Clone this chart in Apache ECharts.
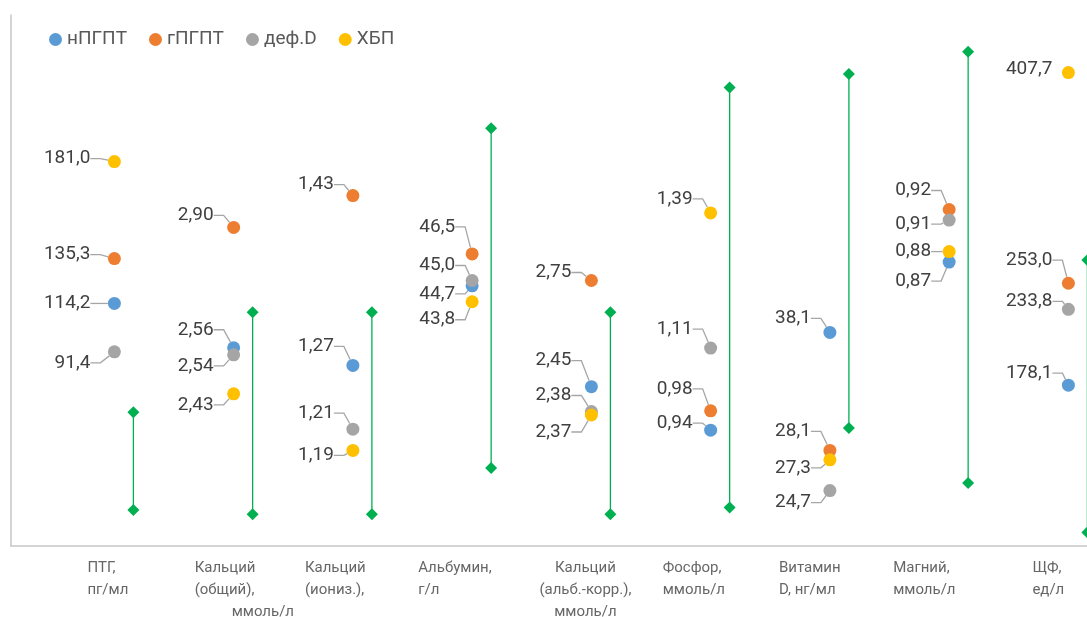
<!DOCTYPE html>
<html>
<head>
<meta charset="utf-8">
<script src="https://cdn.jsdelivr.net/npm/echarts@6/dist/echarts.min.js"></script>
<style>
  html, body { margin: 0; padding: 0; background: #ffffff; }
  #chart { width: 1087px; height: 617px; }
</style>
</head>
<body>
<div id="chart"></div>
<script>
// Laboratory parameters (lines of each axis caption)
const categories = [
  'ПТГ,\nпг/мл',
  'Кальций\n(общий),\nммоль/л',
  'Кальций\n(иониз.),',
  'Альбумин,\nг/л',
  'Кальций\n(альб.-корр.),\nммоль/л',
  'Фосфор,\nммоль/л',
  'Витамин\nD, нг/мл',
  'Магний,\nммоль/л',
  'ЩФ,\nед/л'
];

// Patient groups
const groups = ['нПГПТ', 'гПГПТ', 'деф.D', 'ХБП'];

// Group mean values per parameter
const npgpt = [114.2, 2.56, 1.27, 44.7, 2.45, 0.94, 38.1, 0.87, 178.1];
const gpgpt = [135.3, 2.90, 1.43, 46.5, 2.75, 0.98, 28.1, 0.92, 253.0];
const defD  = [91.4, 2.54, 1.21, 45.0, 2.38, 1.11, 24.7, 0.91, 233.8];
const hbp   = [181.0, 2.43, 1.19, 43.8, 2.37, 1.39, 27.3, 0.88, 407.7];

// Reference intervals (lower / upper limits)
const refLow  = [17, 2.09, 1.13, 34.4, 2.09, 0.78, 30, 0.66, 70];
const refHigh = [63, 2.66, 1.32, 53.6, 2.66, 1.65, 60, 1.07, 270];

// Each parameter is drawn on its own hidden value scale
const scaleMin = [0, 2.0, 1.1, 30, 2.0, 0.7, 20, 0.6, 60];
const scaleMax = [250, 3.5, 1.6, 60, 3.5, 1.8, 65, 1.105, 450];

// Number of decimals shown for each parameter
const decimals = [1, 2, 2, 1, 2, 2, 1, 2, 1];

// ---- presentation ----
const COLORS = ['#5b9bd5', '#ed7d31', '#a5a5a5', '#ffc000'];
const RANGE_COLOR = '#00b050';
const FONT = 'Roboto, "Liberation Sans", sans-serif';
const groupValues = [npgpt, gpgpt, defD, hbp];

// vertical shift of each value label from its dot, rows follow groups
const labelDy = [
  [0, -18, -19, 8, -26, -7, -14, 19, -12],
  [-4, -12, -11, -27, -8, -22, -19, -19, -23],
  [11, 11, -16, -15, -16, -19, 12, 4, -8],
  [-3, 11, 5, 18, 17, -14, 8, 0, -3]
];
// distance from dot centre to right edge of its value label
const labelGap = [24, 20, 19, 17, 20, 18, 19, 18, 16];
// caption placement under the axis: horizontal shift and alignment
const captionShift = [-27, -39, -48, -54, -6, -48, -51, -56, -36];
const captionAlign = ['left', 'left', 'left', 'left', 'center', 'left', 'left', 'left', 'left'];
const RANGE_SHIFT = 19;

const fmt = (v, d) => v.toFixed(d).replace('.', ',');

const yAxes = categories.map((c, ci) => ({
  type: 'value',
  min: scaleMin[ci],
  max: scaleMax[ci],
  show: ci === 0,
  axisLine: { show: ci === 0, onZero: false, lineStyle: { color: '#c6c6c6', width: 1.5 } },
  axisTick: { show: false },
  axisLabel: { show: false },
  splitLine: { show: false }
}));

function renderRange(params, api) {
  const x = api.value(0);
  const lo = api.coord([x, api.value(1)]);
  const hi = api.coord([x, api.value(2)]);
  const px = lo[0] + RANGE_SHIFT;
  const d = 6;
  const diamond = (y) => ({
    type: 'polygon',
    shape: { points: [[px, y - d], [px + d, y], [px, y + d], [px - d, y]] },
    style: { fill: RANGE_COLOR }
  });
  return {
    type: 'group',
    children: [
      { type: 'line', shape: { x1: px, y1: hi[1], x2: px, y2: lo[1] },
        style: { stroke: RANGE_COLOR, lineWidth: 1.3 } },
      diamond(hi[1]),
      diamond(lo[1])
    ]
  };
}

const series = [];
const seriesMeta = [];

categories.forEach((c, ci) => {
  series.push({
    type: 'custom',
    yAxisIndex: ci,
    silent: true,
    z: 1,
    renderItem: renderRange,
    data: [[ci, refLow[ci], refHigh[ci]]]
  });
  seriesMeta.push(null);
});

groups.forEach((g, gi) => {
  categories.forEach((c, ci) => {
    series.push({
      type: 'scatter',
      name: g,
      yAxisIndex: ci,
      symbol: 'circle',
      symbolSize: 13,
      silent: true,
      z: 3,
      itemStyle: { color: COLORS[gi], opacity: 1 },
      data: [[ci, groupValues[gi][ci]]],
      label: {
        show: true,
        position: 'left',
        padding: [0, 6, 0, 0],
        fontFamily: FONT,
        fontSize: 19,
        color: '#404040',
        formatter: (p) => fmt(p.value[1], decimals[ci])
      },
      labelLine: {
        show: !(gi === 3 && ci === 8),
        length2: 10,
        smooth: false,
        lineStyle: { color: '#a6a6a6', width: 1.3 }
      },
      labelLayout: (p) => {
        const m = seriesMeta[p.seriesIndex];
        const cx = p.rect.x + p.rect.width / 2;
        const cy = p.rect.y + p.rect.height / 2;
        return {
          x: cx - labelGap[m.ci] + 6,
          y: cy + labelDy[m.gi][m.ci],
          align: 'right',
          verticalAlign: 'middle'
        };
      }
    });
    seriesMeta.push({ gi: gi, ci: ci });
  });
});

// axis captions, anchored on the bottom of the plot
series.push({
  type: 'scatter',
  yAxisIndex: 0,
  symbolSize: 0,
  silent: true,
  clip: false,
  data: categories.map((c, ci) => ({
    value: [ci, scaleMin[0]],
    label: { align: captionAlign[ci], offset: [captionShift[ci], 0] }
  })),
  label: {
    show: true,
    position: 'bottom',
    distance: 11,
    fontFamily: FONT,
    fontSize: 15,
    lineHeight: 22,
    color: '#404040',
    formatter: (p) => {
      const lines = categories[p.dataIndex].split('\n');
      if (p.dataIndex === 1) {
        lines[2] = '{u|' + lines[2] + '}';
      }
      return lines.join('\n');
    },
    rich: {
      u: { fontFamily: FONT, fontSize: 15, lineHeight: 22, color: '#404040', padding: [0, 0, 0, 37] }
    }
  }
});
seriesMeta.push(null);

const chart = echarts.init(document.getElementById('chart'), null, { renderer: 'canvas' });
chart.setOption({
  animation: false,
  backgroundColor: '#ffffff',
  legend: {
    data: groups,
    left: 44,
    top: 25,
    icon: 'circle',
    itemWidth: 13,
    itemHeight: 13,
    itemGap: 22,
    selectedMode: false,
    textStyle: { fontFamily: FONT, fontSize: 19, color: '#595959' }
  },
  grid: { left: 11, right: 0, top: 15, bottom: 71, containLabel: false },
  xAxis: {
    type: 'value',
    min: -0.867,
    max: 8.156,
    axisLine: { show: true, onZero: false, lineStyle: { color: '#c6c6c6', width: 1.5 } },
    axisTick: { show: false },
    axisLabel: { show: false },
    splitLine: { show: false }
  },
  yAxis: yAxes,
  series: series
});
</script>
</body>
</html>
